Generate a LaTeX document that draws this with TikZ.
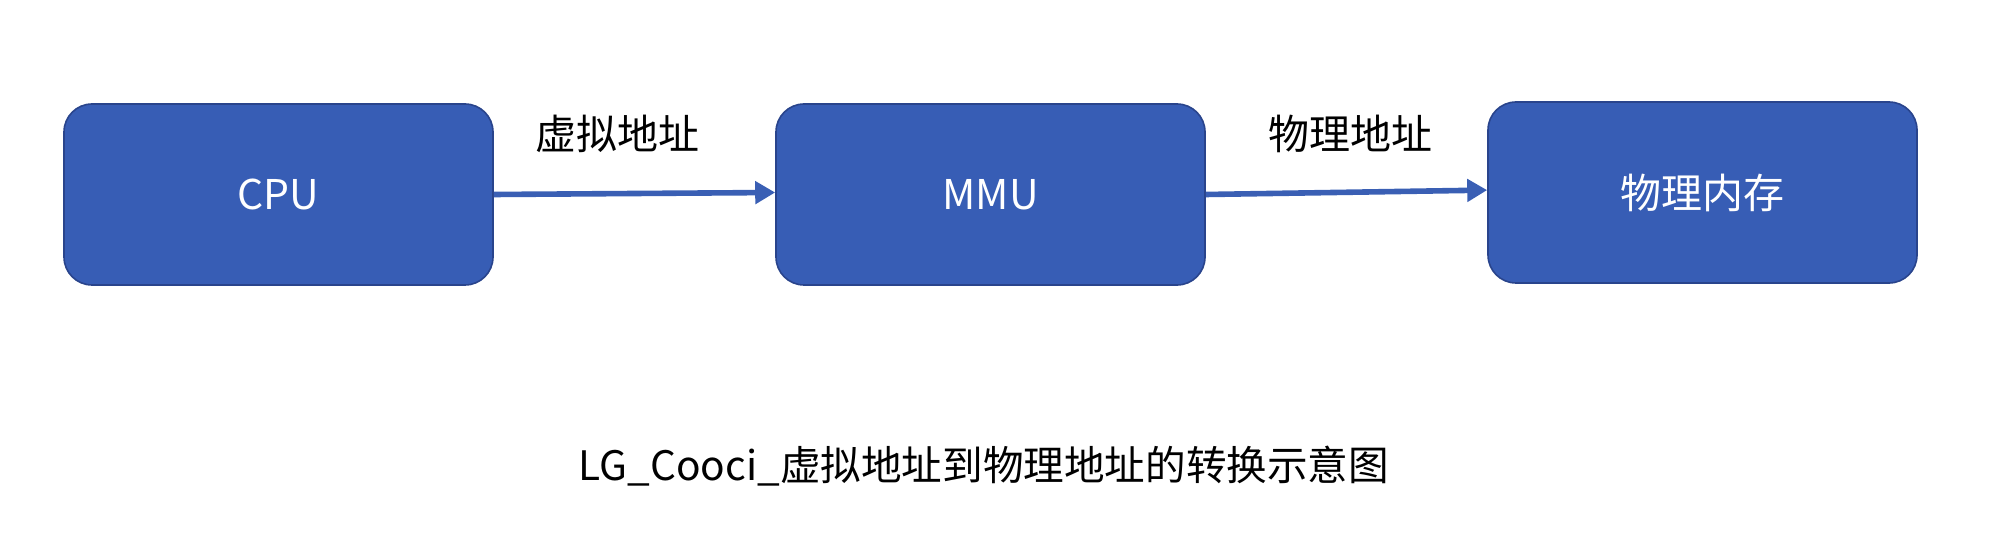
\documentclass[tikz,border=0pt]{standalone}
\usepackage{fontspec}
\setmainfont{Noto Sans CJK SC}
\usetikzlibrary{arrows.meta}
\definecolor{boxfill}{RGB}{55,93,181}
\definecolor{boxline}{RGB}{41,68,140}
\definecolor{arrowblue}{RGB}{58,95,180}
\tikzset{
  unitbox/.style={draw=boxline, line width=0.8pt, fill=boxfill, rounded corners=14pt,
    minimum width=214.5pt, minimum height=90.5pt, inner sep=0pt,
    text=white, font=\fontsize{20.5pt}{24pt}\selectfont},
  flow/.style={draw=arrowblue, line width=2.8pt,
    -{Triangle[length=10pt,width=11pt]}},
  lbl/.style={text=black, font=\fontsize{20.5pt}{24pt}\selectfont, inner sep=0pt},
  captiontext/.style={text=black, font=\fontsize{20.3pt}{24pt}\selectfont, inner sep=0pt}
}
\begin{document}
\begin{tikzpicture}[x=0.5pt,y=-0.5pt]
\useasboundingbox (0,0) rectangle (1998,534);
\node[unitbox] (cpu) at (278.5,194.5) {CPU};
\node[unitbox] (mmu) at (990.5,194.5) {MMU};
\node[unitbox] (mem) at (1702.5,192.5) {物理内存};
\draw[flow] (cpu.east) -- ([yshift=1pt]mmu.west);
\draw[flow] (mmu.east) -- ([yshift=1.2pt]mem.west);
\node[lbl] (l1) at (617,134) {虚拟地址};
\node[lbl] (l2) at (1350,134) {物理地址};
\node[captiontext] (caption) at (984,466) {LG\_Cooci\_虚拟地址到物理地址的转换示意图};
\end{tikzpicture}
\end{document}
